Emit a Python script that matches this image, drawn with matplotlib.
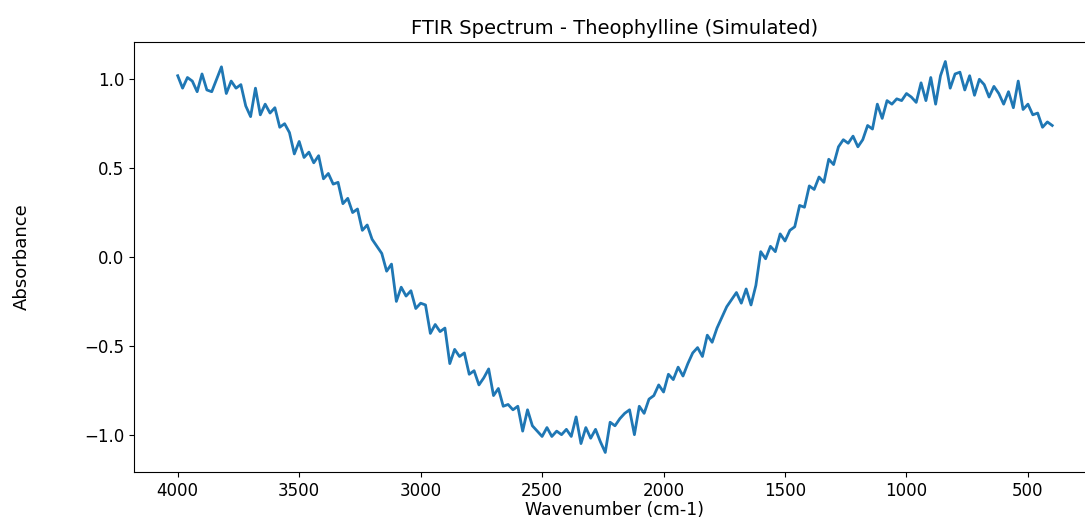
import numpy as np
import matplotlib
matplotlib.use('Agg')
import matplotlib.pyplot as plt

# 波数 (4000 -> 400, 20 cm-1 刻み)
wavenumber = np.arange(4000, 399, -20)

# 吸光度
absorbance = [
    1.02, 0.95, 1.01, 0.99, 0.93, 1.03, 0.94, 0.93, 1.00, 1.07,
    0.92, 0.99, 0.95, 0.97, 0.85, 0.79, 0.95, 0.80, 0.86, 0.81,
    0.84, 0.73, 0.75, 0.70, 0.58, 0.65, 0.56, 0.59, 0.53, 0.57,
    0.44, 0.47, 0.41, 0.42, 0.30, 0.33, 0.25, 0.27, 0.15, 0.18,
    0.10, 0.06, 0.02, -0.08, -0.04, -0.25, -0.17, -0.22, -0.19, -0.29,
    -0.26, -0.27, -0.43, -0.38, -0.42, -0.40, -0.60, -0.52, -0.56, -0.54,
    -0.66, -0.64, -0.72, -0.68, -0.63, -0.78, -0.74, -0.84, -0.83, -0.86,
    -0.84, -0.98, -0.86, -0.95, -0.98, -1.01, -0.96, -1.01, -0.98, -1.00,
    -0.97, -1.01, -0.90, -1.05, -0.96, -1.02, -0.97, -1.04, -1.10, -0.93,
    -0.95, -0.91, -0.88, -0.86, -1.00, -0.84, -0.88, -0.80, -0.78, -0.72,
    -0.76, -0.66, -0.69, -0.62, -0.67, -0.60, -0.54, -0.51, -0.56, -0.44,
    -0.48, -0.40, -0.34, -0.28, -0.24, -0.20, -0.26, -0.18, -0.27, -0.16,
    0.03, -0.01, 0.06, 0.03, 0.13, 0.09, 0.15, 0.17, 0.29, 0.28,
    0.40, 0.38, 0.45, 0.42, 0.55, 0.52, 0.62, 0.66, 0.64, 0.68,
    0.62, 0.66, 0.74, 0.72, 0.86, 0.78, 0.88, 0.86, 0.89, 0.88,
    0.92, 0.90, 0.87, 0.98, 0.88, 1.01, 0.86, 1.02, 1.10, 0.95,
    1.03, 1.04, 0.94, 1.02, 0.91, 1.00, 0.97, 0.90, 0.96, 0.92,
    0.86, 0.93, 0.84, 0.99, 0.83, 0.86, 0.80, 0.81, 0.73, 0.76,
    0.74,
]

fig = plt.figure(figsize=(10.85, 5.22), dpi=100)
# 右端は画像の外まで伸ばす (元画像が右で切れている)
ax = fig.add_axes([0.1235, 0.0958, 0.8866, 0.8238])

ax.plot(wavenumber, absorbance, color='#1f77b4', linewidth=2.0)
ax.invert_xaxis()

ax.set_title('FTIR Spectrum - Theophylline (Simulated)', fontsize=14)
ax.set_xlabel('Wavenumber (cm-1)', fontsize=12.5, labelpad=1)
ax.set_ylabel('Absorbance', fontsize=13, labelpad=38)
ax.tick_params(labelsize=12)
ax.spines['right'].set_visible(False)

fig.savefig('out.png', dpi=100)
